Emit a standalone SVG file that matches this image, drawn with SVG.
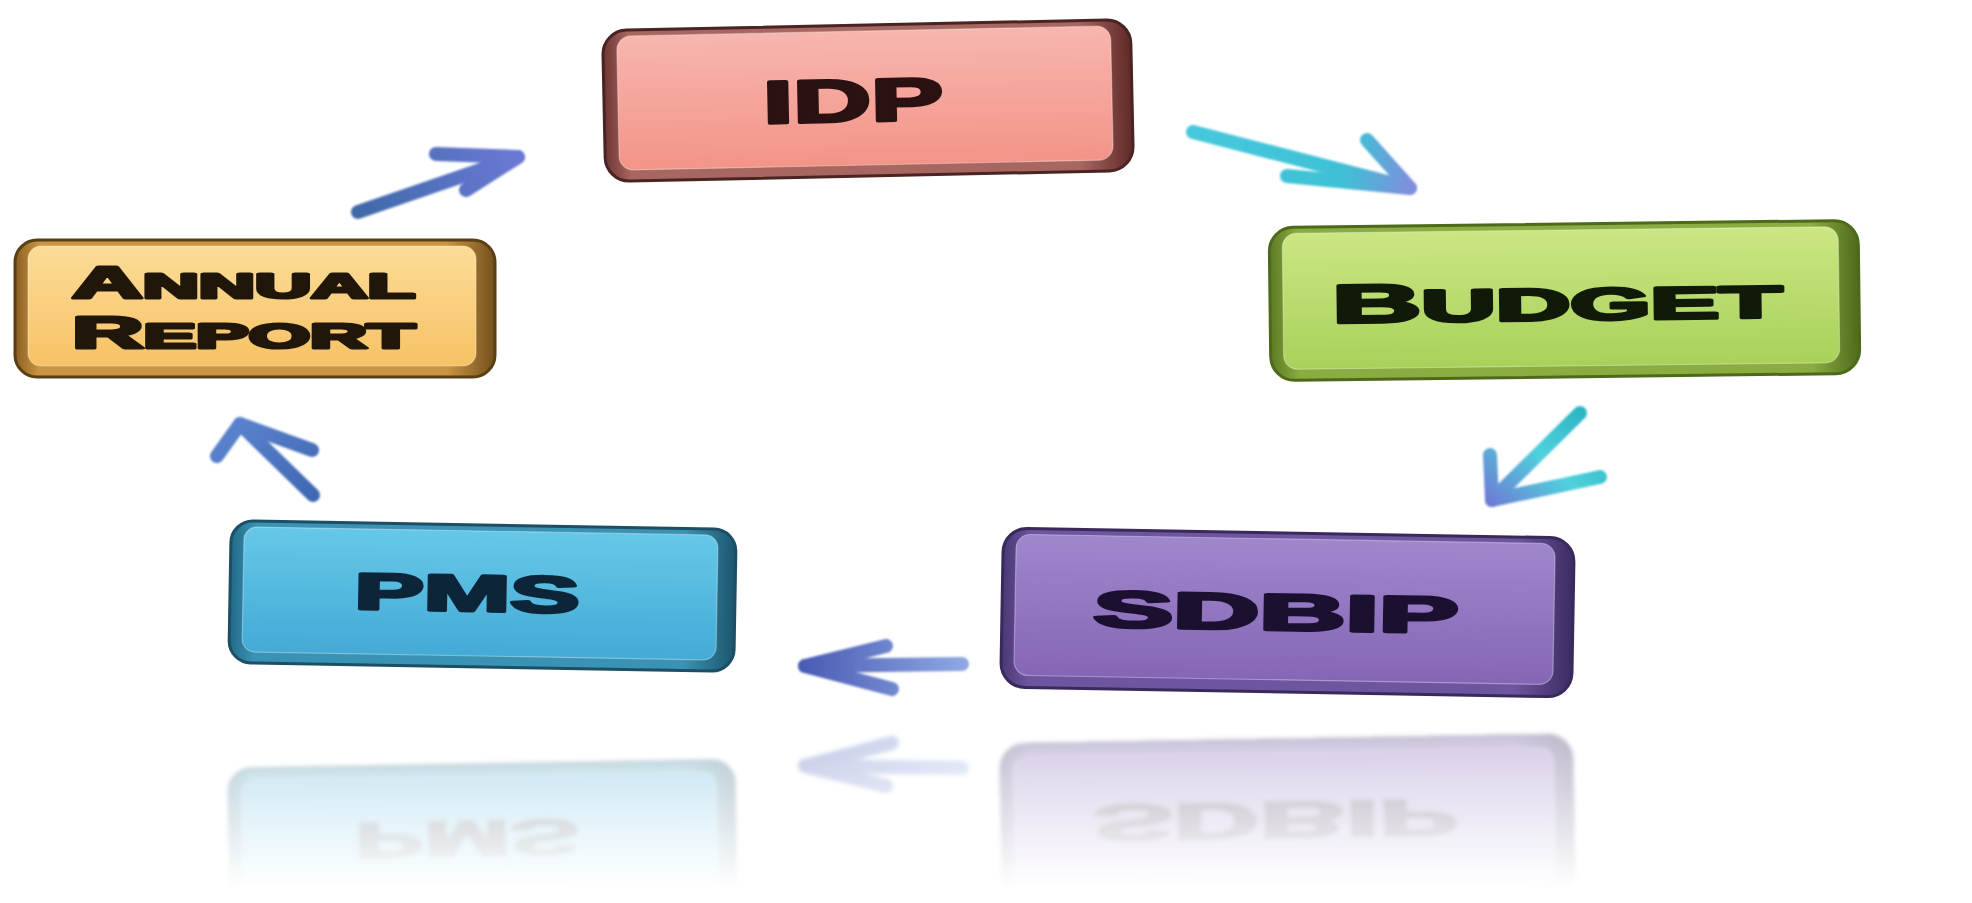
<svg xmlns="http://www.w3.org/2000/svg" xmlns:xlink="http://www.w3.org/1999/xlink" width="1972" height="903" viewBox="0 0 1972 903">
  <style>
    .label { font-family: "Liberation Sans", Arial, sans-serif; font-weight: bold; stroke-width: 3.2; stroke-linejoin: round; paint-order: stroke; }
    .side { stroke-width: 3; }
    .face { stroke-width: 1.2; stroke-opacity: 0.35; }
    .shaft, .head { fill: none; stroke-linecap: round; stroke-linejoin: round; stroke-width: 14; }
  </style>
  <defs>
    <!-- face fills -->
    <linearGradient id="gIdp" x1="0" y1="0" x2="0" y2="1">
      <stop offset="0" stop-color="#f7b6ae"/><stop offset="1" stop-color="#f39488"/>
    </linearGradient>
    <linearGradient id="gIdpSide" x1="0" y1="0" x2="1" y2="0">
      <stop offset="0" stop-color="#6f3634"/><stop offset="0.05" stop-color="#a86660"/><stop offset="0.9" stop-color="#a86660"/><stop offset="1" stop-color="#5e2a28"/>
    </linearGradient>
    <linearGradient id="gAr" x1="0" y1="0" x2="0" y2="1">
      <stop offset="0" stop-color="#fcdc98"/><stop offset="1" stop-color="#f6c264"/>
    </linearGradient>
    <linearGradient id="gArSide" x1="0" y1="0" x2="1" y2="0">
      <stop offset="0" stop-color="#8a5f24"/><stop offset="0.05" stop-color="#c99443"/><stop offset="0.9" stop-color="#c99443"/><stop offset="1" stop-color="#74501c"/>
    </linearGradient>
    <linearGradient id="gBud" x1="0" y1="0" x2="0" y2="1">
      <stop offset="0" stop-color="#cbe683"/><stop offset="1" stop-color="#a8d15a"/>
    </linearGradient>
    <linearGradient id="gBudSide" x1="0" y1="0" x2="1" y2="0">
      <stop offset="0" stop-color="#5d7a24"/><stop offset="0.05" stop-color="#8aac40"/><stop offset="0.92" stop-color="#8aac40"/><stop offset="1" stop-color="#4f6a1c"/>
    </linearGradient>
    <linearGradient id="gPms" x1="0" y1="0" x2="0" y2="1">
      <stop offset="0" stop-color="#66c8e8"/><stop offset="1" stop-color="#44aad6"/>
    </linearGradient>
    <linearGradient id="gPmsSide" x1="0" y1="0" x2="1" y2="0">
      <stop offset="0" stop-color="#236a86"/><stop offset="0.05" stop-color="#3a92b4"/><stop offset="0.9" stop-color="#3a92b4"/><stop offset="1" stop-color="#1c566e"/>
    </linearGradient>
    <linearGradient id="gSdb" x1="0" y1="0" x2="0" y2="1">
      <stop offset="0" stop-color="#a087cc"/><stop offset="1" stop-color="#8566b6"/>
    </linearGradient>
    <linearGradient id="gSdbSide" x1="0" y1="0" x2="1" y2="0">
      <stop offset="0" stop-color="#4a3874"/><stop offset="0.05" stop-color="#6d55a0"/><stop offset="0.9" stop-color="#6d55a0"/><stop offset="1" stop-color="#3c2c62"/>
    </linearGradient>

    <!-- connector strokes -->
    <linearGradient id="aIdpBud" gradientUnits="userSpaceOnUse" x1="1193" y1="132" x2="1410" y2="188">
      <stop offset="0" stop-color="#46c9dc"/><stop offset="0.7" stop-color="#3fc0d6"/><stop offset="1" stop-color="#7f8fdc"/>
    </linearGradient>
    <linearGradient id="aBudSdb" gradientUnits="userSpaceOnUse" x1="1580" y1="413" x2="1490" y2="502">
      <stop offset="0" stop-color="#2fb6c4"/><stop offset="0.45" stop-color="#4fd2dc"/><stop offset="1" stop-color="#6c7ed4"/>
    </linearGradient>
    <linearGradient id="aSdbPms" gradientUnits="userSpaceOnUse" x1="962" y1="663" x2="803" y2="663">
      <stop offset="0" stop-color="#8ea6e2"/><stop offset="1" stop-color="#4a5cb4"/>
    </linearGradient>
    <linearGradient id="aPmsAr" gradientUnits="userSpaceOnUse" x1="313" y1="497" x2="240" y2="420">
      <stop offset="0" stop-color="#3f67b2"/><stop offset="1" stop-color="#5a82cc"/>
    </linearGradient>
    <linearGradient id="aArIdp" gradientUnits="userSpaceOnUse" x1="355" y1="212" x2="515" y2="155">
      <stop offset="0" stop-color="#3d6aa8"/><stop offset="1" stop-color="#6a78d4"/>
    </linearGradient>

    <!-- soft mirror underneath the bottom row -->
    <linearGradient id="fadeGrad" gradientUnits="userSpaceOnUse" x1="0" y1="735" x2="0" y2="890">
      <stop offset="0" stop-color="#fff" stop-opacity="0.34"/>
      <stop offset="1" stop-color="#fff" stop-opacity="0"/>
    </linearGradient>
    <mask id="fade" maskUnits="userSpaceOnUse" x="0" y="700" width="1972" height="203">
      <rect x="0" y="700" width="1972" height="203" fill="url(#fadeGrad)"/>
    </mask>
    <filter id="soft" x="-5%" y="-5%" width="110%" height="110%">
      <feGaussianBlur stdDeviation="2"/>
    </filter>
    <filter id="arrowSoft" x="-20%" y="-20%" width="140%" height="140%">
      <feGaussianBlur stdDeviation="1.1"/>
    </filter>
  </defs>

  <rect width="1972" height="903" fill="#ffffff"/>

  <!-- connectors -->
  <g id="connectors" filter="url(#arrowSoft)">
    <g id="arrow-idp-budget" stroke="url(#aIdpBud)">
      <path class="shaft" d="M1193,132 L1410,188"/>
      <path class="head" d="M1367,140 L1410,188 L1287,176"/>
    </g>
    <g id="arrow-budget-sdbip" stroke="url(#aBudSdb)">
      <path class="shaft" d="M1580,413 L1492,500"/>
      <path class="head" d="M1490,455 L1492,500 L1600,477"/>
    </g>
    <g id="arrow-sdbip-pms" stroke="url(#aSdbPms)">
      <path class="shaft" d="M962,664 L805,666"/>
      <path class="head" d="M886,646 L805,666 L892,689"/>
    </g>
    <g id="arrow-pms-report" stroke="url(#aPmsAr)">
      <path class="shaft" d="M313,495 L240,424"/>
      <path class="head" d="M217,456 L240,424 L312,450"/>
    </g>
    <g id="arrow-report-idp" stroke="url(#aArIdp)">
      <path class="shaft" d="M358,212 L518,157"/>
      <path class="head" d="M436,154 L518,157 L466,190"/>
    </g>
  </g>

  <!-- IDP -->
  <g id="idp" transform="rotate(-1.2 868 100)">
    <rect class="side" x="604" y="25" width="528" height="151" rx="24" fill="url(#gIdpSide)" stroke="#4a2422"/>
    <rect class="face" x="618" y="31" width="494" height="134" rx="14" fill="url(#gIdp)" stroke="#ffffff"/>
    <text class="label" x="853" y="121" text-anchor="middle" font-size="60" textLength="180" lengthAdjust="spacingAndGlyphs" fill="#2b1212" stroke="#2b1212">IDP</text>
  </g>

  <!-- Annual Report -->
  <g id="annual-report">
    <rect class="side" x="15" y="240" width="480" height="137" rx="22" fill="url(#gArSide)" stroke="#5a3e14"/>
    <rect class="face" x="28" y="246" width="448" height="120" rx="13" fill="url(#gAr)" stroke="#ffffff"/>
    <text class="label" x="72" y="298" textLength="343" lengthAdjust="spacingAndGlyphs" fill="#20160a" stroke="#20160a"><tspan font-size="44">A</tspan><tspan font-size="35">NNUAL</tspan></text>
    <text class="label" x="72" y="348" textLength="343" lengthAdjust="spacingAndGlyphs" fill="#20160a" stroke="#20160a"><tspan font-size="44">R</tspan><tspan font-size="35">EPORT</tspan></text>
  </g>

  <!-- Budget -->
  <g id="budget" transform="rotate(-0.7 1564 300)">
    <rect class="side" x="1270" y="224" width="589" height="153" rx="24" fill="url(#gBudSide)" stroke="#4d6a1a"/>
    <rect class="face" x="1283" y="230" width="556" height="136" rx="14" fill="url(#gBud)" stroke="#ffffff"/>
    <text class="label" x="1332" y="320" textLength="450" lengthAdjust="spacingAndGlyphs" fill="#111a08" stroke="#111a08"><tspan font-size="54">B</tspan><tspan font-size="45">UDGET</tspan></text>
  </g>

  <!-- PMS -->
  <g id="pms" transform="rotate(1 482 596)">
    <rect class="side" x="230" y="525" width="505" height="142" rx="22" fill="url(#gPmsSide)" stroke="#1c4f64"/>
    <rect class="face" x="243" y="531" width="474" height="125" rx="13" fill="url(#gPms)" stroke="#ffffff"/>
    <text class="label" x="467" y="611" text-anchor="middle" font-size="51" textLength="225" lengthAdjust="spacingAndGlyphs" fill="#0c2538" stroke="#0c2538">PMS</text>
  </g>

  <!-- SDBIP -->
  <g id="sdbip" transform="rotate(1 1287 612)">
    <rect class="side" x="1002" y="533" width="571" height="159" rx="24" fill="url(#gSdbSide)" stroke="#3a2a5c"/>
    <rect class="face" x="1015" y="539" width="539" height="141" rx="14" fill="url(#gSdb)" stroke="#ffffff"/>
    <text class="label" x="1276" y="630" text-anchor="middle" font-size="51" textLength="365" lengthAdjust="spacingAndGlyphs" fill="#1b1030" stroke="#1b1030">SDBIP</text>
  </g>

  <!-- mirrored copy of the bottom row, fading out -->
  <g mask="url(#fade)">
    <g transform="matrix(1 0 0 -1 0 1432)" filter="url(#soft)">
      <use xlink:href="#pms"/>
      <use xlink:href="#sdbip"/>
      <use xlink:href="#arrow-sdbip-pms"/>
    </g>
  </g>
</svg>
